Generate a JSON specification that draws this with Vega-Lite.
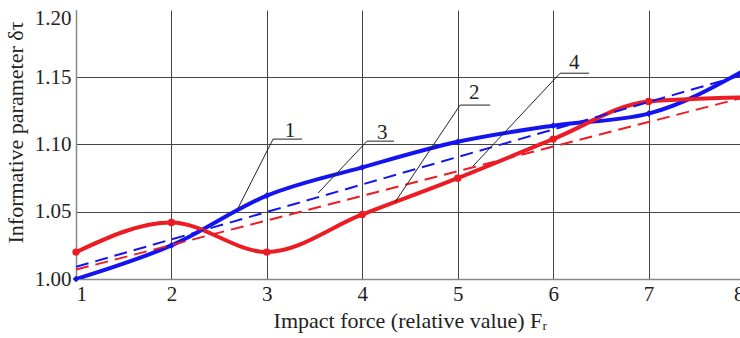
{
  "$schema": "https://vega.github.io/schema/vega-lite/v6.json",
  "autosize": "none",
  "padding": {"left": 76, "top": 10, "right": 0, "bottom": 59},
  "width": 668,
  "height": 269,
  "background": "white",
  "config": {
    "view": {"stroke": null},
    "font": "Liberation Serif, Times New Roman, serif",
    "axis": {
      "labelFont": "Liberation Serif, Times New Roman, serif",
      "titleFont": "Liberation Serif, Times New Roman, serif",
      "labelColor": "#222",
      "titleColor": "#222",
      "labelFontSize": 21,
      "titleFontSize": 22,
      "titleFontWeight": "normal",
      "ticks": false,
      "domainColor": "#888",
      "domainWidth": 1.5,
      "gridColor": "#444",
      "gridOpacity": 1,
      "gridWidth": 1
    }
  },
  "datasets": {
    "curves": [
      {"series": "1", "F": 1, "v": 1.000},
      {"series": "1", "F": 2, "v": 1.025},
      {"series": "1", "F": 3, "v": 1.062},
      {"series": "1", "F": 4, "v": 1.083},
      {"series": "1", "F": 5, "v": 1.102},
      {"series": "1", "F": 6, "v": 1.114},
      {"series": "1", "F": 7, "v": 1.123},
      {"series": "1", "F": 8, "v": 1.155},
      {"series": "2", "F": 1, "v": 1.020},
      {"series": "2", "F": 2, "v": 1.042},
      {"series": "2", "F": 3, "v": 1.020},
      {"series": "2", "F": 4, "v": 1.048},
      {"series": "2", "F": 5, "v": 1.075},
      {"series": "2", "F": 6, "v": 1.104},
      {"series": "2", "F": 7, "v": 1.132},
      {"series": "2", "F": 8, "v": 1.135}
    ],
    "trends": [
      {"series": "3", "F": 1, "v": 1.009},
      {"series": "3", "F": 8, "v": 1.152},
      {"series": "4", "F": 1, "v": 1.007},
      {"series": "4", "F": 8, "v": 1.135}
    ],
    "leaders": [
      {"x": 3.065, "y": 1.104, "x2": 3.369, "y2": 1.104},
      {"x": 3.065, "y": 1.104, "x2": 2.698, "y2": 1.0527},
      {"x": 4.050, "y": 1.1025, "x2": 4.333, "y2": 1.1025},
      {"x": 4.050, "y": 1.1025, "x2": 3.537, "y2": 1.0639},
      {"x": 5.025, "y": 1.1293, "x2": 5.340, "y2": 1.1293},
      {"x": 5.025, "y": 1.1293, "x2": 4.344, "y2": 1.0572},
      {"x": 6.073, "y": 1.153, "x2": 6.377, "y2": 1.153},
      {"x": 6.073, "y": 1.153, "x2": 5.161, "y2": 1.084}
    ],
    "labels": [
      {"label": "1", "x": 3.243, "y": 1.110},
      {"label": "3", "x": 4.208, "y": 1.1085},
      {"label": "2", "x": 5.172, "y": 1.138},
      {"label": "4", "x": 6.220, "y": 1.1605}
    ]
  },
  "layer": [
    {
      "data": {"name": "curves"},
      "mark": {"type": "line", "interpolate": "monotone", "strokeWidth": 4, "clip": true},
      "encoding": {
        "x": {
          "field": "F", "type": "quantitative",
          "scale": {"domain": [1, 8], "nice": false, "zero": false},
          "axis": {
            "values": [1, 2, 3, 4, 5, 6, 7, 8],
            "format": "d",
            "title": "Impact force (relative value) Fᵣ",
            "labelPadding": 4,
            "titlePadding": 6,
            "grid": true,
            "domain": true
          }
        },
        "y": {
          "field": "v", "type": "quantitative",
          "scale": {"domain": [1.0, 1.2], "nice": false, "zero": false},
          "axis": {
            "values": [1.0, 1.05, 1.1, 1.15, 1.2],
            "format": ".2f",
            "title": "Informative parameter δτ",
            "labelPadding": 5,
            "labelOffset": {"condition": {"test": "datum.value >= 1.2", "value": 8}, "value": 0},
            "gridColor": {"condition": {"test": "datum.value >= 1.2", "value": "transparent"}, "value": "#444"},
            "titleX": -61,
            "titleY": 122,
            "titleAngle": -90,
            "titleAlign": "center",
            "titleBaseline": "middle",
            "grid": true
          }
        },
        "color": {
          "field": "series", "type": "nominal",
          "scale": {"domain": ["1", "2", "3", "4"], "range": ["#1414f0", "#ec1c24", "#1414f0", "#ec1c24"]},
          "legend": null
        },
        "detail": {"field": "series"}
      }
    },
    {
      "data": {"name": "curves"},
      "transform": [{"filter": "datum.series == '2' && datum.F < 8"}],
      "mark": {"type": "point", "shape": "circle", "filled": true, "opacity": 1, "size": 55, "color": "#ec1c24"},
      "encoding": {
        "x": {"field": "F", "type": "quantitative"},
        "y": {"field": "v", "type": "quantitative"}
      }
    },
    {
      "data": {"name": "curves"},
      "transform": [{"filter": "datum.series == '1' && datum.F < 8"}],
      "mark": {"type": "point", "shape": "diamond", "filled": true, "opacity": 1, "size": 45, "color": "#1414f0"},
      "encoding": {
        "x": {"field": "F", "type": "quantitative"},
        "y": {"field": "v", "type": "quantitative"}
      }
    },
    {
      "data": {"name": "trends"},
      "mark": {"type": "line", "strokeWidth": 2, "strokeDash": [13, 7], "clip": true},
      "encoding": {
        "x": {"field": "F", "type": "quantitative"},
        "y": {"field": "v", "type": "quantitative"},
        "color": {"field": "series", "type": "nominal", "legend": null}
      }
    },
    {
      "data": {"name": "leaders"},
      "mark": {"type": "rule", "color": "#222", "strokeWidth": 1},
      "encoding": {
        "x": {"field": "x", "type": "quantitative"},
        "y": {"field": "y", "type": "quantitative"},
        "x2": {"field": "x2"},
        "y2": {"field": "y2"}
      }
    },
    {
      "data": {"name": "labels"},
      "mark": {"type": "text", "font": "Liberation Serif, Times New Roman, serif", "fontSize": 21, "color": "#222", "align": "center", "baseline": "middle"},
      "encoding": {
        "x": {"field": "x", "type": "quantitative"},
        "y": {"field": "y", "type": "quantitative"},
        "text": {"field": "label"}
      }
    }
  ]
}
